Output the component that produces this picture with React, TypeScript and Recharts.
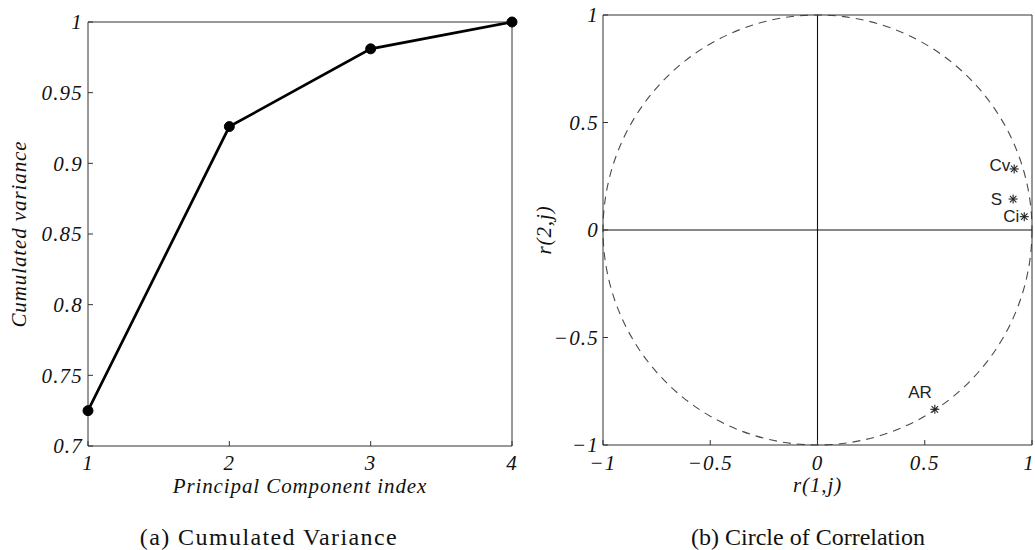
import React from 'react';
import {
  LineChart,
  Line,
  XAxis,
  YAxis,
  ScatterChart,
  Scatter,
  ReferenceLine,
  ReferenceArea,
  Label,
  Text,
} from 'recharts';

// ---------- data: (a) cumulated variance ----------
const componentIndex = [1, 2, 3, 4];
const cumulatedVariance = [0.725, 0.926, 0.981, 1.0];
const indexTicks = [1, 2, 3, 4];
const varianceTicks = [0.7, 0.75, 0.8, 0.85, 0.9, 0.95, 1];

// ---------- data: (b) circle of correlation ----------
const variableNames = ['Cv', 'S', 'Ci', 'AR'];
const r1Values = [0.917, 0.912, 0.964, 0.547];
const r2Values = [0.284, 0.144, 0.062, -0.834];
const correlationTicks = [-1, -0.5, 0, 0.5, 1];

const captionA = '(a) Cumulated Variance';
const captionB = '(b) Circle of Correlation';

const varianceData = componentIndex.map((c, i) => ({ pc: c, variance: cumulatedVariance[i] }));
const correlationData = variableNames.map((n, i) => ({ name: n, r1: r1Values[i], r2: r2Values[i] }));

// label placement relative to the marker (style)
const labelOffsets: Record<string, [number, number]> = {
  Cv: [-4, -3],
  S: [-11, 0],
  Ci: [-5, 0],
  AR: [-3, -17],
};

const AXIS = '#333';
const SERIF = "'Liberation Serif', 'Times New Roman', serif";
const tickStyle = {
  fontFamily: SERIF,
  fontStyle: 'italic',
  fontSize: 21,
  fill: '#111',
  letterSpacing: 1.2,
};
const titleStyle = {
  fontFamily: SERIF,
  fontStyle: 'italic',
  fontSize: 21,
  fill: '#111',
  letterSpacing: 0.9,
  textAnchor: 'middle' as const,
};

const fmt = (v: number) => (v < 0 ? '\u2212' + String(Math.abs(v)) : String(v));

// bottom tick of the correlation plot: the last label is nudged so it stays inside the page
const CorrXTick = (props: any) => {
  const { x, y, payload, textAnchor, verticalAnchor } = props;
  const nudge = payload.value === correlationTicks[correlationTicks.length - 1] ? -3 : 0;
  return (
    <Text
      x={x + nudge}
      y={y}
      textAnchor={textAnchor}
      verticalAnchor={verticalAnchor}
      fontFamily={SERIF}
      fontStyle="italic"
      fontSize={21}
      fill="#111"
      letterSpacing={1.2}
    >
      {fmt(payload.value)}
    </Text>
  );
};

const Asterisk = (props: any) => {
  const { cx, cy, payload } = props;
  if (cx == null || cy == null) return null;
  const s = 4.5;
  const d = s * 0.72;
  const [dx, dy] = labelOffsets[payload.name] || [-5, 0];
  return (
    <g>
      <line x1={cx - s} y1={cy} x2={cx + s} y2={cy} stroke="#222" strokeWidth={1.1} />
      <line x1={cx} y1={cy - s} x2={cx} y2={cy + s} stroke="#222" strokeWidth={1.1} />
      <line x1={cx - d} y1={cy - d} x2={cx + d} y2={cy + d} stroke="#222" strokeWidth={1.1} />
      <line x1={cx - d} y1={cy + d} x2={cx + d} y2={cy - d} stroke="#222" strokeWidth={1.1} />
      <text
        x={cx + dx}
        y={cy + dy}
        textAnchor="end"
        dominantBaseline="central"
        fontFamily="'Liberation Sans', Arial, sans-serif"
        fontSize={17}
        fill="#222"
      >
        {payload.name}
      </text>
    </g>
  );
};

const UnitCircle = (props: any) => {
  const { x, y, width, height } = props;
  return (
    <ellipse
      cx={x + width / 2}
      cy={y + height / 2}
      rx={width / 2}
      ry={height / 2}
      fill="none"
      stroke="#4a4a4a"
      strokeWidth={1.1}
      strokeDasharray="8 6"
    />
  );
};

const captionStyle: React.CSSProperties = {
  position: 'absolute',
  top: 525,
  fontFamily: SERIF,
  fontSize: 24,
  lineHeight: '24px',
  color: '#111',
  whiteSpace: 'nowrap',
  transform: 'translateX(-50%)',
};

export default function App() {
  return (
    <div
      style={{
        position: 'absolute',
        left: 0,
        top: 0,
        width: 1035,
        height: 550,
        background: '#fff',
        overflow: 'hidden',
      }}
    >
      <div style={{ position: 'absolute', left: 0, top: 0 }}>
        <LineChart
          width={540}
          height={500}
          data={varianceData}
          margin={{ top: 22, right: 28, bottom: 4, left: 8 }}
        >
          <XAxis
            dataKey="pc"
            type="number"
            domain={[1, 4]}
            ticks={indexTicks}
            interval={0}
            height={50}
            tickSize={-5}
            tickMargin={14}
            tick={tickStyle}
            axisLine={{ stroke: AXIS }}
            tickLine={{ stroke: AXIS }}
          >
            <Label value="Principal Component index" position="insideBottom" offset={3} style={titleStyle} />
          </XAxis>
          <XAxis
            xAxisId="top"
            orientation="top"
            mirror
            type="number"
            domain={[1, 4]}
            ticks={indexTicks}
            interval={0}
            tick={false}
            tickSize={5}
            axisLine={{ stroke: AXIS }}
            tickLine={{ stroke: AXIS }}
          />
          <YAxis
            type="number"
            domain={[0.7, 1]}
            ticks={varianceTicks}
            interval={0}
            width={80}
            tickSize={-5}
            tickMargin={10}
            tick={tickStyle}
            axisLine={{ stroke: AXIS }}
            tickLine={{ stroke: AXIS }}
          >
            <Label value="Cumulated variance" angle={-90} position="insideLeft" offset={11} style={titleStyle} />
          </YAxis>
          <YAxis
            yAxisId="right"
            orientation="right"
            mirror
            type="number"
            domain={[0.7, 1]}
            ticks={varianceTicks}
            interval={0}
            tick={false}
            tickSize={5}
            axisLine={{ stroke: AXIS }}
            tickLine={{ stroke: AXIS }}
          />
          <Line
            dataKey="variance"
            stroke="#000"
            strokeWidth={2.7}
            dot={{ r: 5, fill: '#000', stroke: '#000', strokeWidth: 1 }}
            activeDot={false}
            isAnimationActive={false}
          />
        </LineChart>
      </div>

      <div style={{ position: 'absolute', left: 520, top: 0 }}>
        <ScatterChart
          width={515}
          height={500}
          margin={{ top: 15, right: 3, bottom: 5, left: 23 }}
        >
          <XAxis
            dataKey="r1"
            type="number"
            domain={[-1, 1]}
            ticks={correlationTicks}
            interval={0}
            height={50}
            tickSize={-5}
            tickMargin={15}
            tick={CorrXTick}
            axisLine={{ stroke: AXIS }}
            tickLine={{ stroke: AXIS }}
          >
            <Label value="r(1,j)" position="insideBottom" offset={3} style={titleStyle} />
          </XAxis>
          <XAxis
            xAxisId="top"
            orientation="top"
            mirror
            type="number"
            domain={[-1, 1]}
            ticks={correlationTicks}
            interval={0}
            tick={false}
            tickSize={5}
            axisLine={{ stroke: AXIS }}
            tickLine={{ stroke: AXIS }}
          />
          <YAxis
            dataKey="r2"
            type="number"
            domain={[-1, 1]}
            ticks={correlationTicks}
            interval={0}
            width={60}
            tickSize={-5}
            tickMargin={9}
            tick={tickStyle}
            tickFormatter={fmt}
            axisLine={{ stroke: AXIS }}
            tickLine={{ stroke: AXIS }}
          >
            <Label value="r(2,j)" angle={-90} position="insideLeft" offset={1} style={titleStyle} />
          </YAxis>
          <YAxis
            yAxisId="right"
            orientation="right"
            mirror
            type="number"
            domain={[-1, 1]}
            ticks={correlationTicks}
            interval={0}
            tick={false}
            tickSize={5}
            axisLine={{ stroke: AXIS }}
            tickLine={{ stroke: AXIS }}
          />
          <ReferenceArea x1={-1} x2={1} y1={-1} y2={1} shape={UnitCircle} />
          <ReferenceLine x={0} stroke="#111" strokeWidth={1.1} />
          <ReferenceLine y={0} stroke="#111" strokeWidth={1.1} />
          <Scatter
            data={correlationData}
            dataKey="r2"
            shape={Asterisk}
            isAnimationActive={false}
          />
        </ScatterChart>
      </div>

      <div style={{ ...captionStyle, left: 269, letterSpacing: 1.4 }}>{captionA}</div>
      <div style={{ ...captionStyle, left: 808 }}>{captionB}</div>
    </div>
  );
}
